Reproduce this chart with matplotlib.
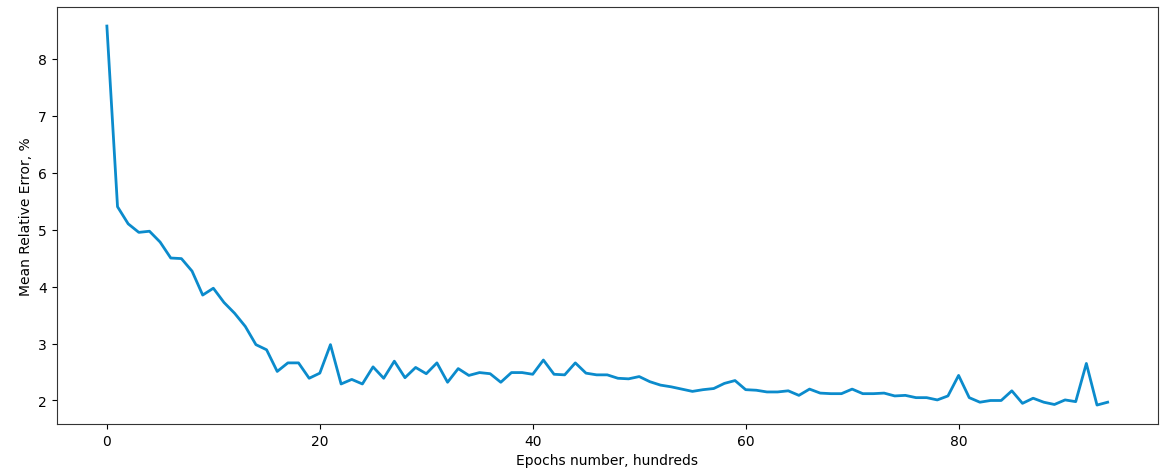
import matplotlib
matplotlib.use("Agg")
import matplotlib.pyplot as plt

epochs = list(range(95))
mre = [8.57, 5.40, 5.10, 4.95, 4.97, 4.78, 4.50, 4.49, 4.27, 3.85,
       3.97, 3.72, 3.53, 3.30, 2.98, 2.89, 2.51, 2.66, 2.66, 2.39,
       2.48, 2.98, 2.29, 2.37, 2.29, 2.59, 2.39, 2.69, 2.40, 2.58,
       2.47, 2.66, 2.32, 2.56, 2.44, 2.49, 2.47, 2.32, 2.49, 2.49,
       2.46, 2.71, 2.46, 2.45, 2.66, 2.48, 2.45, 2.45, 2.39, 2.38,
       2.42, 2.33, 2.27, 2.24, 2.20, 2.16, 2.19, 2.21, 2.30, 2.35,
       2.19, 2.18, 2.15, 2.15, 2.17, 2.09, 2.20, 2.13, 2.12, 2.12,
       2.20, 2.12, 2.12, 2.13, 2.08, 2.09, 2.05, 2.05, 2.01, 2.08,
       2.44, 2.05, 1.97, 2.00, 2.00, 2.17, 1.95, 2.04, 1.97, 1.93,
       2.01, 1.98, 2.65, 1.92, 1.97]

xlabel = "Epochs number, hundreds"
ylabel = "Mean Relative Error, %"

fig = plt.figure(figsize=(11.6, 4.77), dpi=100)
ax = fig.add_axes([0.049, 0.109, 0.949, 0.874])
ax.plot(epochs, mre, color="#0b8bcc", linewidth=2)
ax.set_xlabel(xlabel, fontsize=10)
ax.set_ylabel(ylabel, fontsize=10)
ax.set_xticks([0, 20, 40, 60, 80])
ax.set_yticks([2, 3, 4, 5, 6, 7, 8])
for s in ax.spines.values():
    s.set_color("#333333")
fig.savefig("out.png", dpi=100)
